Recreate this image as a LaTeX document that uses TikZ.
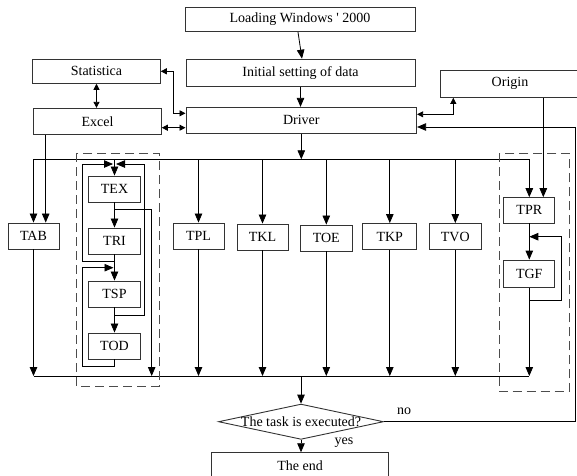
\documentclass[tikz,border=0pt]{standalone}
\usepackage{fontspec}
\setmainfont{Liberation Serif}
\usetikzlibrary{arrows.meta,shapes.geometric}
\begin{document}
\begin{tikzpicture}[x=1pt,y=-1pt,
        font=\fontsize{14}{16}\selectfont,
        blok/.style={draw=black!80, line width=0.9pt, minimum height=26pt, inner sep=0pt},
        task/.style={blok, minimum width=52pt},
        flow/.style={line width=0.8pt, -{Triangle[length=9pt,width=7.5pt]}},
        link/.style={line width=0.8pt, {Triangle[length=6pt,width=6pt]}-{Triangle[length=6pt,width=6pt]}},
        frame/.style={draw=black!70, line width=0.9pt, dash pattern=on 9pt off 5pt}]
        \useasboundingbox (0,0) rectangle (577,475);
        \clip (0,0) rectangle (577,475);

        % top part
        \node[blok, minimum width=230pt, minimum height=24.4pt] (load) at (300,19.5) {Loading Windows \textquotesingle\ 2000};
        \node[blok, minimum width=229pt, minimum height=27.7pt] (init) at (300.5,73) {Initial setting of data};
        \node[blok, minimum width=230.7pt] (driver) at (301.3,120.3) {Driver};
        \node[blok, minimum width=127.6pt, minimum height=24pt] (stat) at (96.5,71.3) {Statistica};
        \node[blok, minimum width=127.6pt] (excel) at (97.5,121.3) {Excel};
        \node[blok, minimum width=140pt, minimum height=27.3pt] (origin) at (510,83.7) {Origin};

        \draw[flow] ([xshift=-2pt]load.south) -- ([xshift=1.5pt]init.north);
        \draw[flow] (init.south) -- (init.south |- driver.north);
        \draw[link] (stat.east) -| (173.3,113.3) -- (driver.west |- 0,113.3);
        \draw[link] (stat.south) -- (stat.south |- excel.north);
        \draw[link] (excel.east |- 0,127.7) -- (driver.west |- 0,127.7);
        \draw[link] (driver.east |- 0,114.3) -| (origin.south -| 453.3,0);

        % tasks
        \node[task, minimum width=51pt] (tab) at (33.5,236) {TAB};
        \node[task] (tex) at (114.5,189) {TEX};
        \node[task] (tri) at (114.5,241) {TRI};
        \node[task] (tsp) at (114.5,294) {TSP};
        \node[task] (tod) at (114.5,346) {TOD};
        \node[task, minimum width=51pt] (tpl) at (198.5,236) {TPL};
        \node[task, minimum width=51pt] (tkl) at (262.5,237) {TKL};
        \node[task] (toe) at (326.3,238) {TOE};
        \node[task, minimum width=54pt] (tkp) at (389.8,236.5) {TKP};
        \node[task] (tvo) at (455.3,236.5) {TVO};
        \node[task, minimum width=51pt, minimum height=25.3pt] (tpr) at (529.3,210.3) {TPR};
        \node[task, minimum width=51pt, minimum height=27.3pt] (tgf) at (529.3,273.7) {TGF};

        \coordinate (busL) at (33.5,159.3);
        \coordinate (busR) at (529.3,159.3);
        \coordinate (sumL) at (33.5,376);
        \coordinate (sumR) at (529.3,376);

        \draw[line width=0.8pt] (busL) -- (busR);
        \draw[line width=0.8pt] (sumL) -- (sumR);
        \draw[flow] (driver.south) -- (driver.south |- busL);
        \draw[flow] (busR) -- (tpr.north);
        \draw[flow] (busL) -- (tab.north);
        \draw[flow] (tab.south) -- (tab |- sumL);
        \draw[flow] (45.7,0 |- excel.south) -- (45.7,0 |- tab.north);
        \draw[flow] (543.3,0 |- origin.south) -- (543.3,0 |- tpr.north);
        \foreach \t in {tpl,tkl,toe,tkp,tvo} {
            \draw[flow] (\t |- busL) -- (\t.north);
            \draw[flow] (\t.south) -- (\t |- sumL);
        }

        % left group
        \coordinate (jA) at (114.5,209);
        \coordinate (jB) at (114.5,261);
        \coordinate (jC) at (114.5,315.7);
        \coordinate (jT) at (114.5,164);
        \coordinate (jS) at (114.5,267.7);
        \draw[flow] (tex |- busL) -- (tex.north);
        \draw[flow] (tex.south) -- (tri.north);
        \draw[flow] (tri.south) -- (tsp.north);
        \draw[flow] (tsp.south) -- (tod.north);
        \draw[flow] (jA) -| (151.7,376);
        \draw[flow, shorten >=1.5pt] (jB) -- (82,261) |- (jT);
        \draw[flow, shorten >=1.5pt] (jC) -- (144,315.7) |- (jT);
        \draw[flow, shorten >=1pt] (tod.south) -- (114.5,366.7) -| (82,267.7) -- (jS);
        \draw[frame] (76,153) rectangle (159,386);

        % right group
        \coordinate (kA) at (529.3,300);
        \coordinate (kT) at (529.3,236.7);
        \draw[flow] (tpr.south) -- (tgf.north);
        \draw[flow] (tgf.south) -- (tgf.south |- sumR);
        \draw[flow] (kA) -- (561,300) |- (kT);
        \draw[frame] (499,153.3) rectangle (569.3,391.7);

        % end part
        \node[draw=black!80, line width=0.9pt, diamond, minimum width=165pt, minimum height=35.3pt, inner sep=0pt] (check) at (301,421.7) {\makebox[0pt]{The task is executed?}};
        \node[blok, minimum width=176.6pt, minimum height=26.6pt] (fin) at (300,466) {The end};
        \node (no) at (404,411.7) {no};
        \node (yes) at (344,443) {yes};

        \draw[flow] (check |- sumL) -- (check.north);
        \draw[flow] (check.south) -- (check.south |- fin.north);
        \draw[flow] (check.east) -| (575,127) -- (driver.east |- 0,127);
    \end{tikzpicture}
\end{document}
